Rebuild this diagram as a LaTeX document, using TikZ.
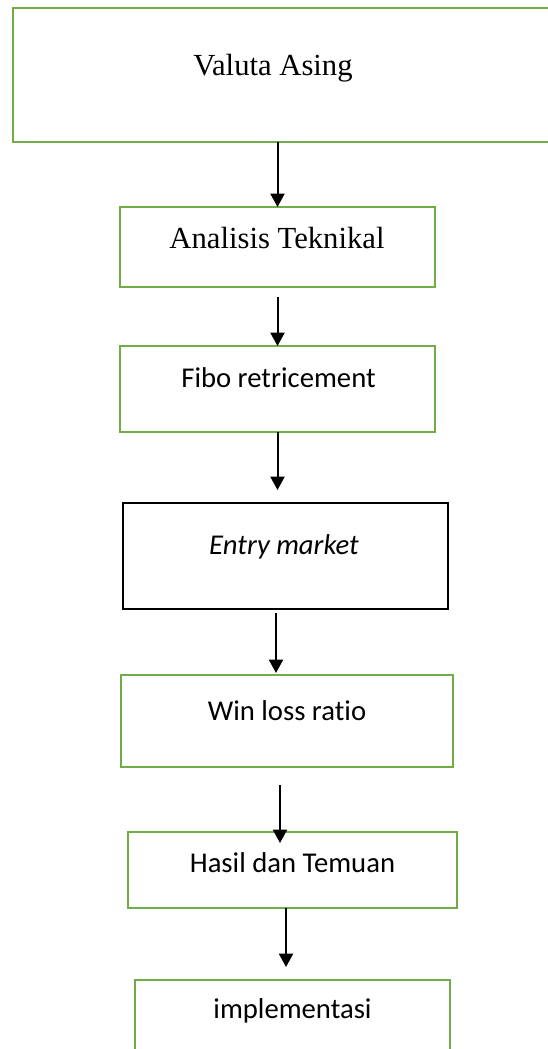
\documentclass[tikz,border=0pt]{standalone}
\usepackage{fontspec}
\setmainfont{Carlito}[Ligatures={NoCommon,NoContextual}]
\newfontfamily\timesfont{Liberation Serif}
\usepackage{tikz}
\usetikzlibrary{
  arrows.meta,
  positioning,
  calc
}
\definecolor{boxgreen}{HTML}{70AD47}

\begin{document}
\begin{tikzpicture}[
  x=0.75pt, y=-0.75pt,
  box/.style={draw=boxgreen, line width=2pt, inner sep=0pt, outer sep=0pt},
  blkbox/.style={box, draw=black, line width=1.75pt},
  serif/.style={anchor=base, inner sep=0pt, font=\timesfont\fontsize{23}{27}\selectfont},
  sans/.style={anchor=base, inner sep=0pt, font=\fontsize{21.5}{25}\selectfont},
  arr/.style={-{Triangle[length=10pt, width=10.5pt]}, line width=1.5pt, black},
]
  \clip (0,0) rectangle (548,1049);

  % boxes
  \node[box, minimum width=410.25pt, minimum height=100.5pt] (val) at (286.5, 75) {};
  \node[box, minimum width=236.25pt, minimum height=60pt] (ana) at (277.5, 247) {};
  \node[box, minimum width=236.25pt, minimum height=64.5pt] (fib) at (277.5, 389) {};
  \node[blkbox, minimum width=243.75pt, minimum height=79.5pt] (ent) at (285.5, 556) {};
  \node[box, minimum width=249pt, minimum height=69pt] (win) at (287, 721) {};
  \node[box, minimum width=246.75pt, minimum height=57pt] (has) at (292.5, 870) {};
  \node[box, minimum width=236.25pt, minimum height=75pt] (imp) at (292.5, 1030) {};

  % texts
  \node[serif] (val-t) at (273, 75) {Valuta Asing};
  \node[serif] (ana-t) at (277, 248) {Analisis Teknikal};
  \node[sans] (fib-t) at (278.5, 387) {Fibo retricement};
  \node[sans] (ent-t) at (284, 554) {\itshape Entry market};
  \node[sans] (win-t) at (287, 720) {Win loss ratio};
  \node[sans] (has-t) at (292.5, 872) {Hasil dan Temuan};
  \node[sans] (imp-t) at (292.5, 1018) {implementasi};

  % arrows
  \draw[arr] (val.south -| ana.north) -- (ana.north);
  \draw[arr] ($(ana.south)+(0,10)$) -- (fib.north);
  \draw[arr] (fib.south) -- ($(fib.south |- ent.north)+(0,-13)$);
  \draw[arr] ($(ent.south)+(-9.5,4)$) -- ($(win.north)+(-11,-2)$);
  \draw[arr] ($(win.south)+(-7,18)$) -- ($(has.north)+(-12.5,11)$);
  \draw[arr] ($(has.south)+(-6.5,0)$) -- ($(imp.north)+(-6.5,-13)$);
\end{tikzpicture}
\end{document}
